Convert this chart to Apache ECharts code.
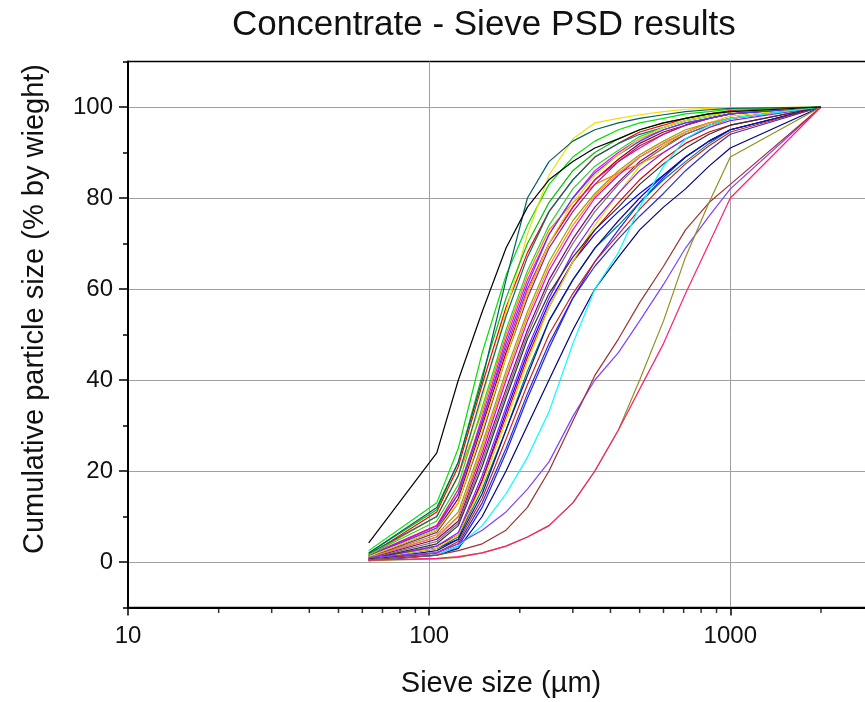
<!DOCTYPE html>
<html><head><meta charset="utf-8">
<script src="https://cdn.jsdelivr.net/npm/echarts@6/dist/echarts.min.js"></script>
<style>html,body{margin:0;padding:0;background:#fff}#c{width:865px;height:702px}</style>
</head><body><div id="c"></div>
<script>
// Sieve sizes (µm)
const sieveSizes = [63,106,125,150,180,212,250,300,355,425,500,600,710,850,1000,2000];

// Cumulative passing (% by weight) for each sample
const sBlack    = [4.2,24,40,55,69,78,84,88,91,93,95,96.5,97.5,98.5,99,100];
const sTeal     = [2,12,22,40,62,80,88,92.5,95,96.5,97.5,98.3,99,99.4,99.7,100];
const sCyan     = [0.5,1.5,3.5,8,15,23,33,48,60,68,78,87,93,96,97.5,100];
const sViolet   = [1,2,4,7,11,16,22,32,40,46,53,61,69,76,82,100];
const sWine     = [0.5,1.5,2.5,4,7,12,20,31,41,49,57,65,73,79,83,100];
const sPink     = [0.4,0.8,1.2,2,3.5,5.5,8,13,20,29,38,48,59,70,80,100];
const sOlive    = [0.3,0.7,1,2,3.5,5.5,8,13,20,29,40,53,67,79,89,100];
const sRed      = [1.5,11,21,39,56,68,77,84,89,92,94.5,96,97.5,98.5,99.2,100];
const sGreen    = [2.5,13,25,46,63,74,83,89,92.5,95,96.5,97.5,98.5,99,99.5,100];
const sBlue     = [0.7,3,5,18,33,46,57,66,72,77,81,85,89,92.5,95,100];
const sMagenta  = [1.5,8,15,32,49,62,72,80,86,90,93,95,96.5,97.5,98.5,100];
const sYellow   = [1.5,10,19,36,55,72,85,93,96.5,97.5,98.3,99,99.5,99.7,99.8,100];
const sDkYellow = [1,6,11,26,42,55,66,75,81,86,89.5,92.5,95,96.5,97.5,100];
const sNavy     = [0.3,1.5,3,10,20,30,40,51,60,67,73,78,82,87,91,100];
const sPurple   = [0.8,5,9,23,38,51,62,71,78,83.5,88,91.5,94,96,97.5,100];
const sWine2    = [1.2,7,14,30,46,59,70,78,84,88.5,92,94.5,96,97.5,98.5,100];
const sDkCyan   = [0.5,3,5.5,16,29,42,53,62,69,74,79,84,88,92,95,100];
const sRoyal    = [0.4,2,4,13,25,37,48,58,65,71,76,81,86,90.5,94,100];
const sOrange   = [1.5,10,19,33,50,63,73,79,83,85.5,87.5,90,93,95.5,97.5,100];
const sPink2    = [1.3,8,16,31,47,60,70,78,84,88,91,94,96,97.5,98.5,100];
const sGreen2   = [2,11.5,22,41,58,70,79,86,90,93,95,96.5,97.5,98.5,99,100];
const sRed2     = [0.6,3.5,6,18,32,45,56,66,73,79,84,88.5,92,94.5,96,100];
const sBlue2    = [0.3,1.5,3.5,12,24,36,47,58,66,73,79,84.5,89,92.5,95,100];
const sMagenta2 = [0.9,5.5,10,24,40,53,64,73,80,85,89,92,94.5,96.5,97.5,100];
const sYellow2  = [0.6,3,6,17,31,44,56,66,74,81,87,91.5,94.5,96.5,98,100];
const sNavy2    = [0.4,2.5,5,15,29,41,53,62,69,75,80,85,89,92.5,95,100];
const sPurple2  = [1,6.5,13,28,45,58,69,77,83,88,91.5,94,96,97.5,98.5,100];
const sDkCyan2  = [1.8,10,19,37,54,67,77,84,89,92,94,95.5,97,98,99,100];
const sGray     = [0.7,4.5,8.5,22,37,50,61,70,77,83,87.5,91,94,96,97.5,100];
const sBlue3    = [1.3,7.5,15,31,48,61,72,80,85.5,89.5,92.5,95,96.5,97.5,98.5,100];
const sOrange2  = [1,5.5,10,25,41,54,65,74,80.5,85.5,89,92,94.5,96.5,97.5,100];
const sViolet2  = [0.6,3.5,6.5,19,34,47,58,68,75,81,86,90,93,95.5,97,100];
const sGreen3   = [1.6,9,17,34,51,64,74,82,87,90.5,93.5,95.5,97,98,99,100];
const sRed3     = [0.4,2,4.5,14,27,39,50,59,66,72,77.5,83,87.5,91.5,94.5,100];
const sBlack2   = [0.6,4,8,21,36,49,59,67,73,78,83,87.5,91,94,96,100];
const sYellow3  = [1.2,7,13,29,45,59,70,79,85,89.5,93,95.5,97,98,99,100];

const samples = [
  ['S1', sRed, '#FF0000'], ['S2', sGreen, '#00E000'], ['S3', sBlue, '#0000FF'],
  ['S4', sMagenta, '#FF00FF'], ['S5', sYellow, '#F0E000'], ['S6', sDkYellow, '#A0A000'],
  ['S7', sNavy, '#000080'], ['S8', sPurple, '#800080'], ['S9', sWine2, '#A00000'],
  ['S10', sDkCyan, '#008080'], ['S11', sRoyal, '#3030C0'], ['S12', sOrange, '#FF8000'],
  ['S13', sPink2, '#FF0080'], ['S14', sGreen2, '#00C000'], ['S15', sRed2, '#E00000'],
  ['S16', sBlue2, '#2020FF'], ['S17', sMagenta2, '#E000E0'], ['S18', sYellow2, '#E8D800'],
  ['S19', sNavy2, '#101090'], ['S20', sPurple2, '#902090'], ['S21', sDkCyan2, '#007070'],
  ['S22', sGray, '#707070'], ['S23', sBlue3, '#4040FF'], ['S24', sOrange2, '#F09020'],
  ['S25', sViolet2, '#8020FF'], ['S26', sGreen3, '#30D030'], ['S27', sRed3, '#D02020'],
  ['S28', sBlack2, '#303030'], ['S29', sYellow3, '#E0E000'],
  ['S30', sCyan, '#00FFFF'], ['S31', sViolet, '#8040FF'], ['S32', sWine, '#A03030'],
  ['S34', sOlive, '#909020'], ['S33', sPink, '#FF2070'], ['S35', sTeal, '#006060'],
  ['S36', sBlack, '#000000']
];

// Axis tick values
const yTickLabels = [0,20,40,60,80,100];
const xMinorTicks = [20,30,40,50,60,70,80,90,200,300,400,500,600,700,800,900,2000];

const FONT = 'Liberation Sans, Arial, Helvetica, sans-serif';
const chart = echarts.init(document.getElementById('c'), null, {renderer:'canvas'});

const series = samples.map(([name, vals, color]) => ({
  name, type:'line', xAxisIndex:0, yAxisIndex:0,
  data: sieveSizes.map((s,i) => [s, vals[i]]),
  symbol:'none', lineStyle:{width:1.2, color}, itemStyle:{color}, z:3, silent:true
}));
series.push({
  type:'scatter', xAxisIndex:0, yAxisIndex:0, clip:false, silent:true,
  data: xMinorTicks.map(v => [v, -10]),
  symbol:'rect', symbolSize:[1.5,5], symbolOffset:[0,3],
  itemStyle:{color:'#000'}, z:5
});

chart.setOption({
  animation:false,
  backgroundColor:'#ffffff',
  title:{text:'Concentrate - Sieve PSD results', left:227, top:3,
    textStyle:{fontFamily:FONT, fontSize:35, fontWeight:'normal', color:'#111'}},
  graphic:[{type:'text', x:35, y:309, rotation:Math.PI/2,
    style:{text:'Cumulative particle size (% by wieght)', font:'29px ' + FONT,
      fill:'#111', textAlign:'center', textVerticalAlign:'middle'}}],
  grid:[
    {left:128, top:61.5, width:746, bottom:94.5, show:true, borderColor:'#000', borderWidth:1.5,
     containLabel:false, outerBoundsMode:'none'},
    {left:128, top:107, width:746, bottom:140, show:false, containLabel:false, outerBoundsMode:'none'}
  ],
  xAxis:[
    {type:'log', gridIndex:0, min:10, max:3000, logBase:10,
     name:'Sieve size (µm)', nameLocation:'middle', nameGap:62,
     nameTextStyle:{fontFamily:FONT, fontSize:29, color:'#111'},
     axisLine:{onZero:false, lineStyle:{color:'#000', width:2}},
     axisTick:{inside:false, length:8, lineStyle:{color:'#000', width:1.5}},
     axisLabel:{fontFamily:FONT, fontSize:24, color:'#111', margin:17,
       formatter:function(v){const l=Math.log10(v);return Math.abs(l-Math.round(l))<1e-6?String(Math.round(v)):'';}},
     splitLine:{show:true, lineStyle:{color:'#a0a0a0', width:1}},
     minorTick:{show:false}},
    {type:'log', gridIndex:1, min:10, max:3000, logBase:10, show:false,
     axisLine:{show:false, onZero:false}}
  ],
  yAxis:[
    {type:'value', gridIndex:0, min:-10, max:110, interval:20,
     axisLine:{show:true, onZero:false, lineStyle:{color:'#000', width:2}},
     axisTick:{show:true, length:5, lineStyle:{color:'#000', width:1.5}},
     axisLabel:{show:false}, splitLine:{show:false}},
    {type:'value', gridIndex:1, min:yTickLabels[0], max:yTickLabels[yTickLabels.length-1], interval:20,
     axisLine:{show:false, onZero:false},
     axisTick:{show:true, length:9, lineStyle:{color:'#000', width:1.5}},
     axisLabel:{fontFamily:FONT, fontSize:24, color:'#111', margin:15},
     splitLine:{show:true, lineStyle:{color:'#a0a0a0', width:1}}}
  ],
  series
});
</script></body></html>
